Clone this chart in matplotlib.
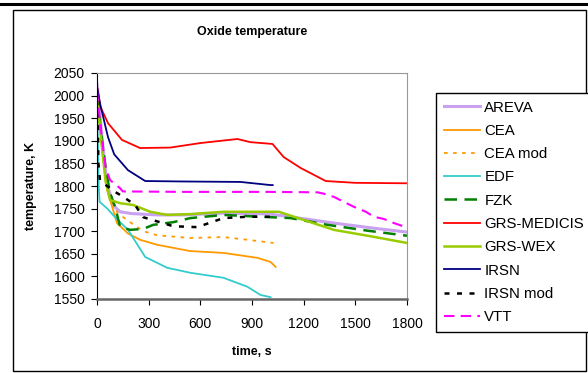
import numpy as np
import matplotlib
matplotlib.use("Agg")
import matplotlib.pyplot as plt
from matplotlib.patches import Rectangle
from matplotlib.lines import Line2D

plt.rcParams['font.family'] = ['Liberation Sans', 'DejaVu Sans']

# series data (time s, temperature K)
areva_t = [0, 10, 30, 60, 100, 134, 200, 349, 500, 734, 900, 1000, 1100, 1375, 1600, 1800]
areva_T = [2025, 1990, 1900, 1800, 1755, 1743, 1739, 1736, 1736, 1740, 1739, 1738, 1733, 1718, 1707, 1698]

cea_t = [0, 10, 30, 60, 116, 180, 250, 349, 542, 734, 932, 1008, 1037]
cea_T = [2000, 1960, 1880, 1790, 1718, 1695, 1681, 1670, 1656, 1652, 1641, 1632, 1621]

ceamod_t = [0, 10, 30, 60, 120, 192, 270, 349, 542, 734, 874, 1025]
ceamod_T = [2000, 1960, 1880, 1790, 1740, 1720, 1700, 1691, 1685, 1687, 1681, 1674]

edf_t = [0, 5, 10, 15, 60, 105, 180, 280, 408, 542, 734, 874, 949, 1008]
edf_T = [2000, 1900, 1800, 1765, 1750, 1731, 1703, 1643, 1619, 1608, 1597, 1577, 1559, 1554]

fzk_t = [0, 20, 50, 76, 105, 134, 192, 268, 326, 443, 542, 734, 949, 1124, 1340, 1573, 1800]
fzk_T = [2000, 1930, 1840, 1784, 1754, 1710, 1703, 1705, 1714, 1720, 1729, 1736, 1732, 1729, 1714, 1701, 1690]

grsm_t = [0, 20, 64, 145, 250, 425, 600, 815, 891, 1019, 1084, 1182, 1328, 1500, 1800]
grsm_T = [2020, 1975, 1939, 1902, 1884, 1885, 1895, 1904, 1897, 1893, 1864, 1840, 1811, 1807, 1806]

wex_t = [0, 10, 30, 50, 76, 134, 210, 309, 408, 550, 734, 1056, 1375, 1600, 1800]
wex_T = [2000, 1960, 1880, 1810, 1769, 1762, 1758, 1743, 1736, 1738, 1743, 1743, 1703, 1688, 1674]

irsn_t = [0, 17, 64, 100, 180, 280, 500, 833, 1008, 1020]
irsn_T = [2020, 1983, 1908, 1870, 1835, 1811, 1810, 1809, 1802, 1802]

irsnmod_t = [0, 5, 8, 17, 87, 153, 221, 268, 443, 582, 734, 874, 1008]
irsnmod_T = [1990, 1950, 1850, 1813, 1791, 1776, 1758, 1731, 1711, 1709, 1729, 1732, 1732]

vtt_t = [0, 10, 30, 50, 76, 134, 150, 500, 1000, 1280, 1316, 1375, 1433, 1491, 1561, 1607, 1666, 1724, 1800]
vtt_T = [2010, 1970, 1900, 1840, 1813, 1795, 1788, 1787, 1787, 1786, 1783, 1776, 1765, 1754, 1743, 1732, 1727, 1718, 1708]

series = [
    ("AREVA", areva_t, areva_T, "#c8a2f0", "-", 2.2),
    ("CEA", cea_t, cea_T, "#ff9900", "-", 1.3),
    ("CEA mod", ceamod_t, ceamod_T, "#ff9900", (0, (2, 3)), 1.3),
    ("EDF", edf_t, edf_T, "#33cccc", "-", 1.3),
    ("FZK", fzk_t, fzk_T, "#008000", (0, (5, 3)), 1.8),
    ("GRS-MEDICIS", grsm_t, grsm_T, "#ff0000", "-", 1.3),
    ("GRS-WEX", wex_t, wex_T, "#99cc00", "-", 1.8),
    ("IRSN", irsn_t, irsn_T, "#000080", "-", 1.3),
    ("IRSN mod", irsnmod_t, irsnmod_T, "#000000", (0, (2, 3)), 1.8),
    ("VTT", vtt_t, vtt_T, "#ff00ff", (0, (5, 3)), 1.5),
]

fig = plt.figure(figsize=(5.88, 3.73), dpi=100)
W, H = 588, 373

# outer chart frame
fig.patches.append(Rectangle((13 / W, 1 - 371 / H), (586 - 13) / W, (371 - 10) / H,
                             transform=fig.transFigure, fill=False, ec="black", lw=1.0))
fig.lines.append(Line2D([0, 1], [1 - 3.5 / H, 1 - 3.5 / H], transform=fig.transFigure,
                        color="black", lw=2.2))

ax = fig.add_axes([97 / W, 1 - 299 / H, (407 - 97) / W, (299 - 73) / H])
for name, t, T, c, ls, lw in series:
    ax.plot(t, T, color=c, linestyle=ls, lw=lw, label=name)

ax.set_xlim(0, 1800)
ax.set_ylim(1550, 2050)
ax.set_xticks(np.arange(0, 1801, 300))
ax.set_yticks(np.arange(1550, 2051, 50))
ax.tick_params(labelsize=10, length=4, width=0.8, colors="black")
ax.tick_params(axis="x", pad=9)
ax.tick_params(axis="y", pad=5)
for s in ["top", "right"]:
    ax.spines[s].set_color("#999999")
ax.spines["bottom"].set_color("#666666")
ax.spines["bottom"].set_linewidth(1.8)
ax.spines["left"].set_color("black")

ax.set_title("Oxide temperature", fontsize=9, fontweight="bold", pad=0, y=1 + 38.5 / 226)
ax.set_xlabel("time, s", fontsize=9, fontweight="bold", labelpad=11)
ax.set_ylabel("temperature, K", fontsize=9, fontweight="bold", labelpad=12)

fig.legend(loc="upper left", bbox_to_anchor=(436 / W, 1 - 93 / H), fontsize=10.8,
           frameon=True, fancybox=False, edgecolor="black", framealpha=1,
           handlelength=2.45, handletextpad=0.27, labelspacing=0.62,
           borderpad=0.5, borderaxespad=0)

fig.savefig("out.png", dpi=100)
